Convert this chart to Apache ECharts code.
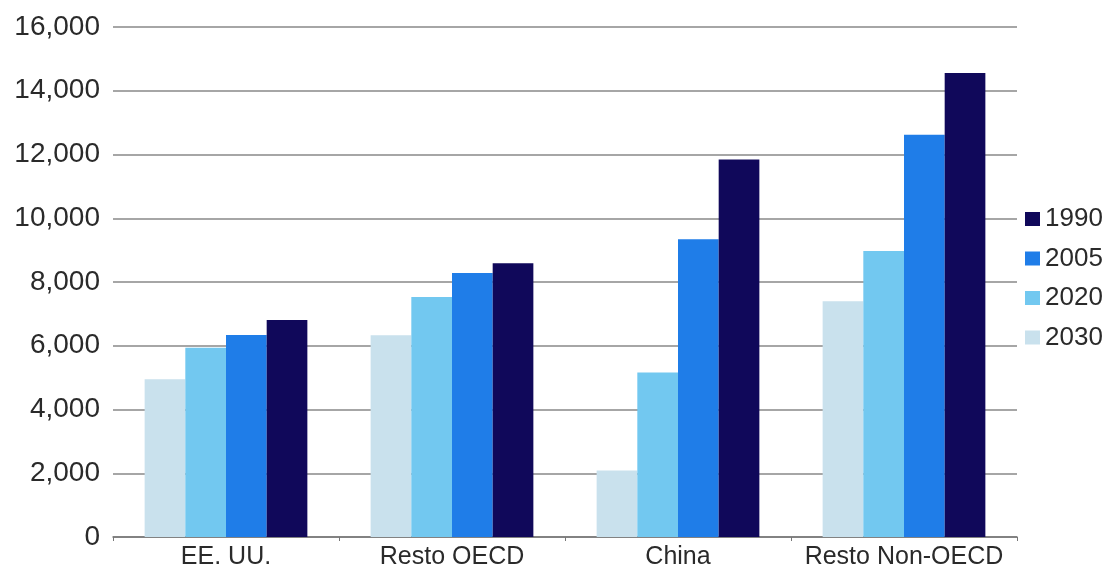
<!DOCTYPE html>
<html lang="es" style="height: 100%">
<head>
  <meta charset="utf-8">
</head>
<body style="height: 100%; margin: 0; background: #fff">
  <div id="container" style="width: 1111px; height: 571px"></div>

  <script type="text/javascript" src="https://cdn.jsdelivr.net/npm/echarts@6/dist/echarts.min.js"></script>
  <script type="text/javascript">
    var regions = ['EE. UU.', 'Resto OECD', 'China', 'Resto Non-OECD'];
    var legendOrder = ['1990', '2005', '2020', '2030'];

    // valores, por serie
    var v2030 = [4950, 6330, 2090, 7400];
    var v2020 = [5940, 7530, 5160, 8970];
    var v2005 = [6340, 8280, 9340, 12620];
    var v1990 = [6810, 8590, 11840, 14560];

    var colors = {
      '1990': '#10085a',
      '2005': '#1f7de8',
      '2020': '#72c8f0',
      '2030': '#c9e1ed'
    };

    var myChart = echarts.init(document.getElementById('container'));

    function bar(name, values) {
      return {
        name: name,
        type: 'bar',
        data: values,
        barGap: '0%',
        barCategoryGap: '28%',
        itemStyle: { color: colors[name] }
      };
    }

    myChart.setOption({
      animation: false,
      textStyle: { fontFamily: 'Liberation Sans, Arial, sans-serif' },
      grid: { left: 113, right: 94, top: 27, bottom: 34 },
      legend: {
        data: legendOrder,
        orient: 'vertical',
        left: 1020,
        top: 201,
        itemWidth: 15,
        itemHeight: 14,
        itemGap: 13.5,
        icon: 'rect',
        textStyle: { fontSize: 26, color: '#2a2a2a' }
      },
      xAxis: {
        type: 'category',
        data: regions,
        axisLine: { lineStyle: { color: '#777', width: 1.5 } },
        axisTick: { show: true, length: 4, lineStyle: { color: '#777' } },
        axisLabel: { fontSize: 25, color: '#2a2a2a', margin: 8, interval: 0, hideOverlap: false }
      },
      yAxis: {
        type: 'value',
        min: 0,
        max: 16000,
        interval: 2000,
        axisLine: { show: false },
        axisTick: { show: false },
        axisLabel: {
          fontSize: 28,
          color: '#2a2a2a',
          margin: 13,
          formatter: function (v) { return v.toLocaleString('en-US'); }
        },
        splitLine: { lineStyle: { color: '#888', width: 1.5 } }
      },
      series: [
        bar('2030', v2030),
        bar('2020', v2020),
        bar('2005', v2005),
        bar('1990', v1990)
      ]
    });
  </script>
</body>
</html>
